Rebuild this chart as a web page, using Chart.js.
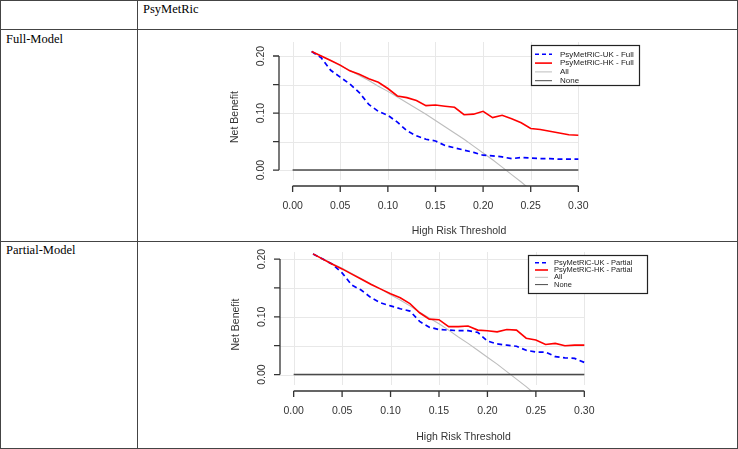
<!DOCTYPE html>
<html>
<head>
<meta charset="utf-8">
<script src="https://cdn.jsdelivr.net/npm/chart.js"></script>
<style>
  html, body { margin: 0; padding: 0; background: #fff; }
  #page { position: relative; width: 738px; height: 449px; overflow: hidden; font-family: "Liberation Serif", "Times New Roman", serif; font-size: 12.5px; color: #000; }
  .hl, .vl { position: absolute; background: #444; }
  .txt { position: absolute; white-space: nowrap; line-height: 1; }
  canvas { position: absolute; left: 0; top: 0; }
</style>
</head>
<body>
<div id="page">
  <div class="hl" style="left:0;top:0;width:738px;height:1px"></div>
  <div class="hl" style="left:0;top:29px;width:738px;height:1px"></div>
  <div class="hl" style="left:0;top:241px;width:738px;height:1px"></div>
  <div class="hl" style="left:0;top:448px;width:738px;height:1px"></div>
  <div class="vl" style="left:0;top:0;width:1px;height:449px"></div>
  <div class="vl" style="left:137px;top:0;width:1px;height:449px"></div>
  <div class="vl" style="left:737px;top:0;width:1px;height:449px"></div>
  <div class="txt" style="left:143px;top:3px">PsyMetRic</div>
  <div class="txt" style="left:6px;top:33px">Full-Model</div>
  <div class="txt" style="left:6px;top:244px">Partial-Model</div>
  <canvas id="fullChart" width="738" height="449"></canvas>
  <canvas id="partialChart" width="738" height="449"></canvas>
</div>
<script>
// thresholds 0.02 .. 0.30
const thresholds = [0.02, 0.03, 0.04, 0.05, 0.06, 0.07, 0.08, 0.09, 0.10, 0.11, 0.12, 0.13, 0.14, 0.15, 0.16,
  0.17, 0.18, 0.19, 0.20, 0.21, 0.22, 0.23, 0.24, 0.25, 0.26, 0.27, 0.28, 0.29, 0.30];

const fullUK = [0.208, 0.197, 0.175, 0.163, 0.151, 0.136, 0.115, 0.103, 0.096, 0.084, 0.069, 0.060, 0.054, 0.051, 0.043,
  0.039, 0.035, 0.031, 0.026, 0.025, 0.023, 0.020, 0.022, 0.021, 0.020, 0.020, 0.019, 0.019, 0.019];
const fullHK = [0.208, 0.200, 0.192, 0.184, 0.174, 0.168, 0.160, 0.154, 0.143, 0.130, 0.127, 0.122, 0.113, 0.114, 0.112,
  0.110, 0.097, 0.098, 0.103, 0.092, 0.096, 0.090, 0.083, 0.073, 0.071, 0.068, 0.065, 0.062, 0.061];
const fullAll = [0.208, 0.200, 0.192, 0.183, 0.175, 0.166, 0.157, 0.147, 0.138, 0.128, 0.118, 0.108, 0.098, 0.087, 0.076,
  0.065, 0.054, 0.042, 0.030, 0.018, 0.005, -0.008, -0.021, -0.035];

const partialUK = [0.209, 0.200, 0.191, 0.176, 0.155, 0.146, 0.133, 0.124, 0.119, 0.114, 0.110, 0.092, 0.082, 0.078, 0.077,
  0.076, 0.076, 0.073, 0.058, 0.053, 0.051, 0.049, 0.042, 0.039, 0.039, 0.031, 0.029, 0.028, 0.021];
const partialHK = [0.209, 0.200, 0.191, 0.183, 0.174, 0.165, 0.156, 0.148, 0.140, 0.133, 0.123, 0.107, 0.096, 0.095, 0.083,
  0.083, 0.084, 0.077, 0.076, 0.074, 0.078, 0.077, 0.063, 0.060, 0.052, 0.054, 0.050, 0.051, 0.051];
const partialAll = [0.209, 0.201, 0.192, 0.184, 0.175, 0.166, 0.157, 0.148, 0.138, 0.129, 0.119, 0.108, 0.098, 0.088, 0.077,
  0.065, 0.054, 0.042, 0.030, 0.018, 0.005, -0.008, -0.021, -0.035];

const noneX = [0, 0.30];
const noneY = [0, 0];

const xTicks = [0, 0.05, 0.10, 0.15, 0.20, 0.25, 0.30];
const xTickLabels = ['0.00', '0.05', '0.10', '0.15', '0.20', '0.25', '0.30'];
const yTicks = [0, 0.05, 0.10, 0.15, 0.20];
const yTickLabels = ['0.00', '', '0.10', '', '0.20'];

const xTitle = 'High Risk Threshold';
const yTitle = 'Net Benefit';
const fullLegend = ['PsyMetRiC-UK - Full', 'PsyMetRiC-HK - Full', 'All', 'None'];
const partialLegend = ['PsyMetRiC-UK - Partial', 'PsyMetRiC-HK - Partial', 'All', 'None'];

const BLUE = '#0000ff', RED = '#ff0000', ALLC = '#bdbdbd', NONEC = '#4a4a4a';
const SANS = '"Liberation Sans", Arial, sans-serif';

const pts = (xs, ys) => ys.map((v, i) => ({ x: xs[i], y: v }));

// R-style axes, grid and legend drawn on the chart's own scales
const rPlot = {
  id: 'rPlot',
  beforeDatasetsDraw(chart, args, o) {
    const { ctx, chartArea: a, scales: { x, y } } = chart;
    ctx.save();
    ctx.strokeStyle = '#e8e8e8';
    ctx.lineWidth = 1;
    ctx.beginPath();
    const xEnd = x.getPixelForValue(xTicks[xTicks.length - 1]);
    yTicks.forEach(v => {
      const py = Math.round(y.getPixelForValue(v)) + 0.5;
      ctx.moveTo(a.left, py); ctx.lineTo(xEnd, py);
    });
    xTicks.forEach(v => {
      const px = Math.round(x.getPixelForValue(v)) + 0.5;
      ctx.moveTo(px, a.top); ctx.lineTo(px, a.bottom - 6);
    });
    ctx.stroke();
    ctx.restore();
  },
  afterDatasetsDraw(chart, args, o) {
    const { ctx, chartArea: a, scales: { x, y } } = chart;
    ctx.save();
    ctx.strokeStyle = '#333';
    ctx.lineWidth = 1.3;
    ctx.fillStyle = '#333';
    ctx.font = '10.5px ' + SANS;

    // x axis
    const ay = a.bottom;
    const x0 = x.getPixelForValue(xTicks[0]), x1 = x.getPixelForValue(xTicks[xTicks.length - 1]);
    ctx.beginPath();
    ctx.moveTo(x0, ay); ctx.lineTo(x1, ay);
    xTicks.forEach(v => { const px = x.getPixelForValue(v); ctx.moveTo(px, ay); ctx.lineTo(px, ay + 6); });
    ctx.stroke();
    ctx.textAlign = 'center';
    ctx.textBaseline = 'middle';
    xTicks.forEach((v, i) => ctx.fillText(xTickLabels[i], x.getPixelForValue(v), ay + 20));
    ctx.fillText(xTitle, (a.left + a.right) / 2, ay + o.xTitleGap);

    // y axis
    const ax = a.left;
    const y0 = y.getPixelForValue(yTicks[0]), y1 = y.getPixelForValue(yTicks[yTicks.length - 1]);
    ctx.beginPath();
    ctx.moveTo(ax, y0); ctx.lineTo(ax, y1);
    yTicks.forEach(v => { const py = y.getPixelForValue(v); ctx.moveTo(ax, py); ctx.lineTo(ax - 6, py); });
    ctx.stroke();
    yTicks.forEach((v, i) => {
      if (!yTickLabels[i]) return;
      ctx.save();
      ctx.translate(ax - 18, y.getPixelForValue(v));
      ctx.rotate(-Math.PI / 2);
      ctx.fillText(yTickLabels[i], 0, 0);
      ctx.restore();
    });
    ctx.save();
    ctx.translate(ax - 44, (a.top + a.bottom) / 2 + 3);
    ctx.rotate(-Math.PI / 2);
    ctx.fillText(yTitle, 0, 0);
    ctx.restore();

    // legend
    const L = o.legend;
    const right = a.right, left = right - L.w, top = a.top + L.inset;
    ctx.fillStyle = '#fff';
    ctx.fillRect(left, top, L.w, L.h);
    ctx.strokeStyle = '#222';
    ctx.lineWidth = 1.2;
    ctx.strokeRect(left + 0.5, top + 0.5, L.w, L.h);
    const styles = [
      { c: BLUE, w: 1.6, d: [4, 3] },
      { c: RED, w: 1.6, d: [] },
      { c: ALLC, w: 1, d: [] },
      { c: NONEC, w: 1, d: [] }
    ];
    ctx.font = L.font + 'px ' + SANS;
    ctx.textAlign = 'left';
    o.labels.forEach((lab, i) => {
      const ry = top + L.first + i * L.step;
      const s = styles[i];
      ctx.strokeStyle = s.c; ctx.lineWidth = s.w; ctx.setLineDash(s.d);
      ctx.beginPath(); ctx.moveTo(left + L.s0, ry); ctx.lineTo(left + L.s1, ry); ctx.stroke();
      ctx.setLineDash([]);
      ctx.fillStyle = '#222';
      ctx.fillText(lab, left + L.tx, ry);
    });
    ctx.restore();
  }
};

function makeChart(id, cfg) {
  return new Chart(document.getElementById(id), {
    type: 'line',
    data: {
      datasets: [
        { label: cfg.labels[1], data: pts(thresholds, cfg.hk), borderColor: RED, borderWidth: 1.6, order: 1 },
        { label: cfg.labels[0], data: pts(thresholds, cfg.uk), borderColor: BLUE, borderWidth: 1.7, borderDash: [5, 3.5], order: 2 },
        { label: cfg.labels[3], data: pts(noneX, noneY), borderColor: NONEC, borderWidth: 1.4, order: 3 },
        { label: cfg.labels[2], data: pts(thresholds, cfg.all), borderColor: ALLC, borderWidth: 1.1, order: 4 }
      ]
    },
    options: {
      responsive: false,
      animation: false,
      layout: { padding: cfg.pad },
      elements: { point: { radius: 0 }, line: { tension: 0, fill: false } },
      plugins: { legend: { display: false }, tooltip: { enabled: false }, rPlot: cfg },
      scales: {
        x: { type: 'linear', display: false, min: cfg.xMin, max: cfg.xMax },
        y: { type: 'linear', display: false, min: cfg.yMin, max: cfg.yMax }
      }
    },
    plugins: [rPlot]
  });
}

makeChart('fullChart', {
  uk: fullUK, hk: fullHK, all: fullAll, labels: fullLegend,
  pad: { left: 279, right: 99, top: 42, bottom: 263 },
  xMin: -0.0143, xMax: 0.3637, yMin: -0.028, yMax: 0.2246,
  xTitleGap: 45,
  legend: { w: 108, h: 40, inset: 3, first: 9.3, step: 8.8, s0: 4, s1: 21, tx: 29, font: 8 }
});

makeChart('partialChart', {
  uk: partialUK, hk: partialHK, all: partialAll, labels: partialLegend,
  pad: { left: 280, right: 91, top: 252, bottom: 58 },
  xMin: -0.0141, xMax: 0.3647, yMin: -0.0285, yMax: 0.2123,
  xTitleGap: 46,
  legend: { w: 119, h: 38, inset: 3, first: 7.7, step: 7.3, s0: 7, s1: 20, tx: 26, font: 7.5 }
});
</script>
</body>
</html>
